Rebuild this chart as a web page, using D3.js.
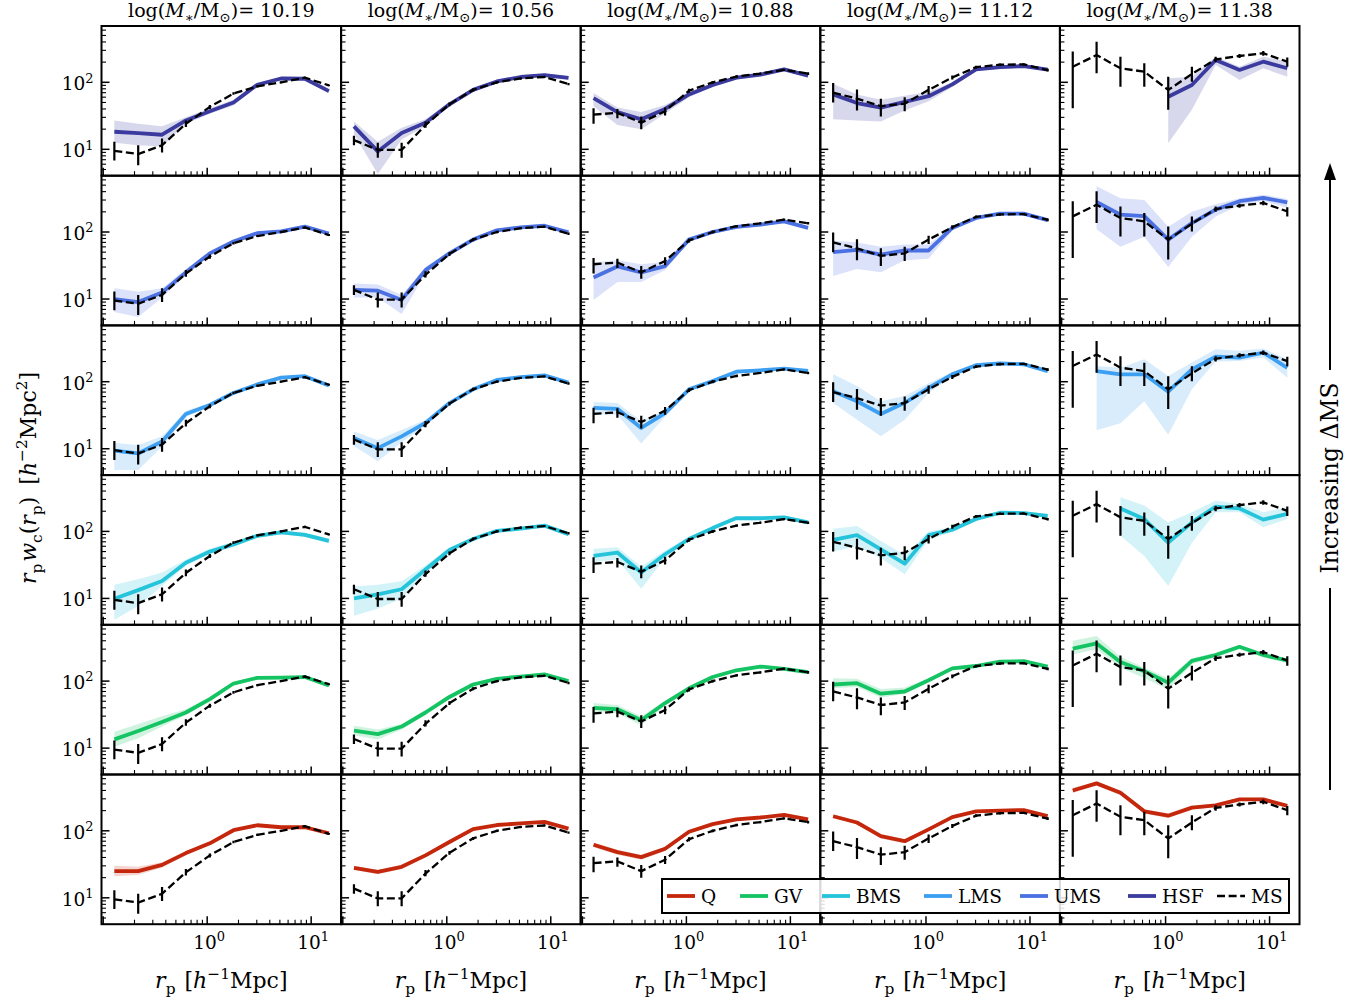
<!DOCTYPE html>
<html><head><meta charset="utf-8">
<script src="https://cdn.jsdelivr.net/npm/d3@7"></script>
<style>body{margin:0;background:#fff} svg{display:block} text{font-family:"DejaVu Serif",serif;fill:#000}</style>
</head><body><svg id="c" width="1368" height="1004"></svg>
<script>
// ---------- data ----------
const rp = [0.128, 0.217, 0.368, 0.624, 1.06, 1.79, 3.03, 5.14, 8.70, 14.8];
const masses = ["10.19", "10.56", "10.88", "11.12", "11.38"];
const groupNames = ["HSF", "UMS", "LMS", "BMS", "GV", "Q"]; // rows, top to bottom
const groupColors = ["#3b3b9f", "#4a70e2", "#3d9ff2", "#25c4da", "#14c463", "#c4270b"];
const legendNames = ["Q", "GV", "BMS", "LMS", "UMS", "HSF", "MS"];
const xMajor = [0.1, 1, 10];
const yMajor = [10, 100];

const msLine = [
 [9.5, 8.5, 11.5, 24, 43, 68, 87, 100, 117, 90],
 [13.7, 9.8, 9.8, 23, 47, 77, 100, 114, 120, 94],
 [33, 35, 25, 37, 75, 100, 122, 135, 153, 135],
 [70, 57, 44, 48, 77, 118, 168, 183, 185, 152],
 [171, 255, 162, 144, 77, 133, 220, 247, 271, 203]];
const msLo = [
 [6.8, 5.8, 9, 21.5, 40, 65, 84, 97, 113, 87],
 [11.5, 7.5, 7.5, 21, 44, 73, 96, 110, 116, 90],
 [24, 29, 20, 32, 70, 95, 117, 130, 147, 129],
 [50, 38, 31, 37, 66, 110, 160, 175, 178, 145],
 [41, 136, 86, 86, 39, 102, 200, 230, 250, 170]];
const msHi = [
 [13, 11.5, 14.5, 27, 46, 71, 90, 103, 121, 93],
 [16, 12.5, 12.5, 26, 50, 81, 104, 118, 124, 98],
 [41, 40, 31, 42, 80, 105, 127, 140, 159, 141],
 [98, 78, 57, 60, 88, 126, 176, 191, 192, 159],
 [287, 404, 240, 192, 121, 170, 240, 265, 292, 235]];

const hsfLine = [
 [18.3, 17.4, 16.5, 27, 37, 50, 92, 114, 113, 74],
 [22, 9.3, 17.5, 25, 47, 77, 103, 120, 128, 116],
 [58, 36, 28, 40, 66, 91, 117, 130, 156, 126],
 [66, 49, 42, 51, 62, 93, 156, 168, 175, 155],
 [null, null, null, null, 61, 91, 215, 153, 203, 162]];
const hsfLo = [
 [12.5, 11.5, 11, 24, 34, 45, 86, 107, 106, 69],
 [17, 4.3, 14, 22, 44, 72, 97, 113, 121, 109],
 [44, 23, 20, 34, 60, 85, 110, 122, 147, 118],
 [28, 27, 26, 38, 52, 85, 147, 158, 165, 146],
 [null, null, null, null, 12.3, 39, 181, 108, 162, 121]];
const hsfHi = [
 [27, 24, 22, 30, 41, 55, 98, 121, 120, 80],
 [26, 13, 21, 28, 50, 82, 109, 127, 135, 123],
 [69, 42, 36, 46, 72, 97, 124, 138, 165, 134],
 [95, 66, 55, 63, 72, 100, 165, 178, 185, 164],
 [null, null, null, null, 115, 121, 241, 171, 241, 203]];

const umsLine = [
 [10, 9, 12.5, 25, 48, 72, 96, 102, 120, 95],
 [13.7, 13.3, 9.7, 27, 48, 77, 106, 117, 124, 99],
 [21, 30.6, 25, 31, 77, 100, 119, 129, 144, 115],
 [50, 54, 46, 53, 53, 115, 162, 188, 188, 150],
 [null, 280, 182, 172, 77, 136, 216, 288, 324, 276]];
const umsLo = [
 [6.4, 5.4, 10.5, 22.5, 44, 67, 90, 96, 113, 89],
 [10.5, 10.5, 6, 24, 44, 72, 100, 111, 118, 93],
 [9.7, 18, 18, 27, 71, 94, 112, 122, 137, 108],
 [22, 28, 25, 38, 40, 106, 152, 178, 178, 141],
 [null, 110, 60, 85, 30, 85, 170, 250, 290, 230]];
const umsHi = [
 [14.5, 12.8, 14.5, 28, 52, 77, 102, 108, 127, 101],
 [17, 16.5, 11.5, 30, 52, 82, 112, 124, 131, 105],
 [35, 38, 33, 36, 84, 107, 126, 136, 152, 122],
 [75, 70, 60, 65, 65, 125, 172, 198, 198, 160],
 [null, 480, 320, 300, 120, 200, 260, 320, 360, 310]];

const lmsLine = [
 [9.4, 8.5, 12.8, 33, 45, 68, 91, 115, 121, 88],
 [14.5, 10.2, 15.3, 24.3, 48, 77, 106, 117, 124, 97],
 [40.7, 39.4, 20.4, 34, 77, 102, 141, 148, 157, 145],
 [72, 51, 33, 48.4, 81, 129, 176, 188, 182, 144],
 [null, 144, 129, 129, 71, 153, 236, 229, 272, 161]];
const lmsLo = [
 [4.8, 4.8, 10.8, 30, 42, 64, 86, 109, 115, 83],
 [11, 6.5, 12.5, 22, 45, 73, 101, 111, 118, 92],
 [33, 32, 12, 30, 72, 96, 133, 140, 149, 137],
 [48, 27, 15.3, 27, 68, 118, 162, 176, 172, 135],
 [null, 18.8, 24, 51, 16.2, 77, 200, 204, 230, 115]];
const lmsHi = [
 [12.2, 11.4, 15.3, 37, 48, 72, 96, 121, 127, 93],
 [18, 13.5, 19, 27, 51, 81, 111, 123, 130, 102],
 [50, 48, 26, 38, 82, 108, 149, 156, 165, 153],
 [129, 86, 51, 61, 95, 140, 188, 200, 194, 155],
 [null, 172, 162, 216, 122, 193, 306, 290, 313, 216]];

const bmsLine = [
 [9.9, 13.3, 18.2, 34, 50, 64, 86, 97, 89, 72],
 [10, 11.5, 13.7, 27, 53, 77, 102, 110, 122, 91],
 [43, 48.4, 24.3, 45.6, 77, 112, 158, 157, 162, 136],
 [75, 88, 54, 33, 88, 106, 153, 190, 188, 170],
 [null, null, 220, 153, 68, 136, 235, 220, 150, 182]];
const bmsLo = [
 [4.8, 7.7, 15.3, 31, 46, 59, 80, 91, 83, 66],
 [5.5, 7, 10, 23, 49, 72, 96, 104, 115, 85],
 [35, 38, 14, 40, 72, 105, 148, 147, 152, 127],
 [50, 60, 40, 23, 75, 98, 143, 178, 176, 158],
 [null, null, 86, 43, 15.3, 68, 193, 193, 115, 153]];
const bmsHi = [
 [16, 19.3, 24.3, 38, 55, 70, 92, 104, 96, 78],
 [15, 16, 18, 31, 57, 82, 108, 116, 129, 97],
 [55, 58, 30, 52, 83, 119, 168, 167, 172, 145],
 [110, 120, 72, 45, 100, 114, 163, 202, 200, 182],
 [null, null, 323, 243, 136, 193, 288, 257, 193, 229]];

const gvLine = [
 [13.5, 18, 24.5, 34, 54, 92, 112, 113, 115, 86],
 [18.2, 16.2, 21, 34, 58, 89, 108, 117, 126, 100],
 [40, 38, 26, 47, 78, 115, 145, 165, 152, 136],
 [89, 93, 65, 70, 103, 155, 168, 195, 198, 164],
 [305, 365, 193, 140, 95, 200, 245, 325, 245, 203]];
const gvLo = [
 [10.5, 14, 21, 31, 50, 87, 106, 107, 109, 81],
 [15.5, 13.5, 19, 31, 54, 84, 103, 111, 120, 95],
 [35, 33, 22, 43, 73, 108, 137, 156, 144, 128],
 [78, 82, 57, 64, 96, 146, 158, 184, 187, 155],
 [250, 300, 160, 110, 75, 180, 225, 300, 225, 185]];
const gvHi = [
 [17.5, 23, 30, 38, 58, 97, 118, 119, 121, 91],
 [21.5, 19, 23, 37, 62, 94, 114, 123, 132, 105],
 [47, 44, 30, 51, 83, 122, 153, 174, 160, 144],
 [110, 108, 76, 80, 110, 164, 178, 206, 209, 173],
 [400, 470, 230, 160, 110, 220, 265, 345, 260, 220]];

const qLine = [
 [25, 25, 31, 46.5, 65, 102, 121, 113, 113, 92],
 [28, 24.3, 29, 43, 68, 106, 122, 129, 136, 108],
 [62, 48, 40.5, 54, 97, 126, 148, 158, 173, 148],
 [165, 133, 83, 70, 105, 160, 195, 200, 204, 166],
 [400, 510, 370, 195, 168, 222, 240, 295, 295, 236]];
const qLo = [
 [21, 22, 28, 43, 61, 97, 115, 108, 108, 88],
 [26, 22.5, 27, 40, 64, 101, 117, 124, 131, 103],
 [57, 44, 37, 50, 91, 120, 141, 151, 166, 141],
 [155, 125, 77, 65, 99, 152, 186, 191, 195, 158],
 [365, 475, 340, 180, 155, 208, 226, 278, 278, 222]];
const qHi = [
 [30, 29, 34, 50, 69, 107, 127, 118, 118, 97],
 [30, 26, 31, 46, 72, 111, 127, 134, 141, 113],
 [67, 52, 44, 58, 103, 132, 155, 165, 180, 155],
 [175, 141, 89, 75, 111, 168, 204, 209, 213, 174],
 [440, 545, 400, 210, 182, 236, 255, 312, 312, 250]];

// ---------- layout ----------
const svg = d3.select('#c');
const L = 101.5, T = 26, PW = 239.6, PH = 149.7;
const x = d3.scaleLog().domain([0.0963, 19.4]).range([0, PW]);
const y = d3.scaleLog().domain([4.04, 692]).range([PH, 0]);
const groups = [
  {line: hsfLine, lo: hsfLo, hi: hsfHi},
  {line: umsLine, lo: umsLo, hi: umsHi},
  {line: lmsLine, lo: lmsLo, hi: lmsHi},
  {line: bmsLine, lo: bmsLo, hi: bmsHi},
  {line: gvLine, lo: gvLo, hi: gvHi},
  {line: qLine, lo: qLo, hi: qHi}];

function rich(sel, parts, size) {
  let cur = 0;
  parts.forEach(p => {
    const ts = sel.append('tspan').text(p.t);
    let target = 0, fs = size;
    if (p.s === 'sub') { target = size * 0.28; fs = size * 0.7; }
    if (p.s === 'sup') { target = -size * 0.42; fs = size * 0.7; }
    ts.attr('dy', target - cur).style('font-size', fs + 'px');
    if (p.dx) ts.attr('dx', p.dx);
    if (p.i) ts.style('font-style', 'italic');
    cur = target;
  });
}

svg.append('defs').append('clipPath').attr('id', 'clip')
  .append('rect').attr('width', PW).attr('height', PH);

const yMinor = [];
[1, 10, 100].forEach(b => d3.range(2, 10).forEach(k => { const v = b * k; if (v > 4.04 && v < 692 && !yMajor.includes(v)) yMinor.push(v); }));
const xMinor = [];
[0.1, 1, 10].forEach(b => d3.range(2, 10).forEach(k => { const v = +(b * k).toFixed(3); if (v > 0.0963 && v < 19.4) xMinor.push(v); }));
const idx = d3.range(rp.length);

groups.forEach((s, r) => {
  masses.forEach((m, c) => {
    const g = svg.append('g').attr('transform', `translate(${L + c * PW},${T + r * PH})`);
    const gc = g.append('g').attr('clip-path', 'url(#clip)');
    const lv = s.line[c], lo = s.lo[c], hi = s.hi[c];
    const col = groupColors[r];
    gc.append('path').datum(idx)
      .attr('d', d3.area().defined(i => lo[i] != null).x(i => x(rp[i])).y0(i => y(lo[i])).y1(i => y(hi[i])))
      .attr('fill', col).attr('fill-opacity', 0.2);
    gc.append('path').datum(idx)
      .attr('d', d3.line().defined(i => lv[i] != null).x(i => x(rp[i])).y(i => y(lv[i])))
      .attr('fill', 'none').attr('stroke', col).attr('stroke-width', 3.8).attr('stroke-linejoin', 'round');
    // MS reference
    gc.append('path').datum(idx)
      .attr('d', d3.line().x(i => x(rp[i])).y(i => y(msLine[c][i])))
      .attr('fill', 'none').attr('stroke', '#000').attr('stroke-width', 2.3).attr('stroke-dasharray', '8,3.6');
    gc.selectAll('line.err').data(idx).enter().append('line')
      .attr('x1', i => x(rp[i])).attr('x2', i => x(rp[i]))
      .attr('y1', i => y(msLo[c][i])).attr('y2', i => y(msHi[c][i]))
      .attr('stroke', '#000').attr('stroke-width', 2.2);
    // ticks
    g.selectAll('line.ym').data(yMajor).enter().append('line')
      .attr('x1', 0).attr('x2', 8).attr('y1', d => y(d)).attr('y2', d => y(d)).attr('stroke', '#000').attr('stroke-width', 1.5);
    g.selectAll('line.yn').data(yMinor).enter().append('line')
      .attr('x1', 0).attr('x2', 4.5).attr('y1', d => y(d)).attr('y2', d => y(d)).attr('stroke', '#000').attr('stroke-width', 1.1);
    g.selectAll('line.xm').data(xMajor).enter().append('line')
      .attr('y1', PH).attr('y2', PH - 8).attr('x1', d => x(d)).attr('x2', d => x(d)).attr('stroke', '#000').attr('stroke-width', 1.5);
    g.selectAll('line.xn').data(xMinor).enter().append('line')
      .attr('y1', PH).attr('y2', PH - 4.5).attr('x1', d => x(d)).attr('x2', d => x(d)).attr('stroke', '#000').attr('stroke-width', 1.1);
    g.append('rect').attr('width', PW).attr('height', PH).attr('fill', 'none').attr('stroke', '#000').attr('stroke-width', 2);
    if (c === 0) {
      yMajor.forEach(v => {
        const t = g.append('text').attr('x', -8).attr('y', y(v) + 8).attr('text-anchor', 'end').style('font-size', '18.5px');
        rich(t, [{t: '10'}, {t: String(Math.round(Math.log10(v))), s: 'sup'}], 18.5);
      });
    }
    if (r === groups.length - 1) {
      [1, 10].forEach(v => {
        const t = g.append('text').attr('x', x(v) + 2).attr('y', PH + 25).attr('text-anchor', 'middle').style('font-size', '18.5px');
        rich(t, [{t: '10'}, {t: String(Math.round(Math.log10(v))), s: 'sup'}], 18.5);
      });
      const xl = g.append('text').attr('x', PW / 2).attr('y', PH + 64).attr('text-anchor', 'middle').style('font-size', '22px');
      rich(xl, [{t: 'r', i: true}, {t: 'p', s: 'sub'}, {t: '[', dx: 9}, {t: 'h', i: true}, {t: '−1', s: 'sup'}, {t: 'Mpc]'}], 22);
    }
    if (r === 0) {
      const tt = g.append('text').attr('x', PW / 2).attr('y', -9).attr('text-anchor', 'middle').style('font-size', '19px');
      rich(tt, [{t: 'log('}, {t: 'M', i: true}, {t: '∗', s: 'sub'}, {t: '/M'}, {t: '⊙', s: 'sub'}, {t: ')= ' + m}], 19);
    }
  });
});

// y axis label
const yl = svg.append('text').attr('transform', 'translate(36,478) rotate(-90)').attr('text-anchor', 'middle').style('font-size', '22px');
rich(yl, [{t: 'r', i: true}, {t: 'p', s: 'sub'}, {t: 'w', i: true, dx: 2}, {t: 'c', s: 'sub'}, {t: '('}, {t: 'r', i: true}, {t: 'p', s: 'sub'}, {t: ')'}, {t: '[', dx: 12}, {t: 'h', i: true}, {t: '−2', s: 'sup'}, {t: 'Mpc'}, {t: '2', s: 'sup'}, {t: ']'}], 22);

// right annotation
const ax = 1330;
svg.append('line').attr('x1', ax).attr('x2', ax).attr('y1', 790).attr('y2', 588).attr('stroke', '#000').attr('stroke-width', 2);
svg.append('line').attr('x1', ax).attr('x2', ax).attr('y1', 370).attr('y2', 176).attr('stroke', '#000').attr('stroke-width', 2);
svg.append('path').attr('d', `M${ax},163 L${ax - 6},180 L${ax + 6},180 Z`).attr('fill', '#000');
const ra = svg.append('text').attr('transform', `translate(${ax + 8},478) rotate(-90)`).attr('text-anchor', 'middle').style('font-size', '23.5px');
rich(ra, [{t: 'Increasing ΔMS'}], 23.5);

// legend
const lg = svg.append('g');
lg.append('rect').attr('x', 662).attr('y', 879).attr('width', 627).attr('height', 34)
  .attr('fill', '#fff').attr('fill-opacity', 0.85).attr('stroke', '#000').attr('stroke-width', 2);
const legX = [667, 740, 822, 924, 1020, 1128, 1217];
legendNames.forEach((n, k) => {
  const gi = groupNames.indexOf(n);
  const isMS = n === 'MS';
  lg.append('line').attr('x1', legX[k]).attr('x2', legX[k] + 28).attr('y1', 896).attr('y2', 896)
    .attr('stroke', isMS ? '#000' : groupColors[gi]).attr('stroke-width', isMS ? 2.3 : 3.8)
    .attr('stroke-dasharray', isMS ? '8,3.6' : null);
  lg.append('text').attr('x', legX[k] + 34).attr('y', 902.5).style('font-size', '18.5px').text(n);
});
</script></body></html>
